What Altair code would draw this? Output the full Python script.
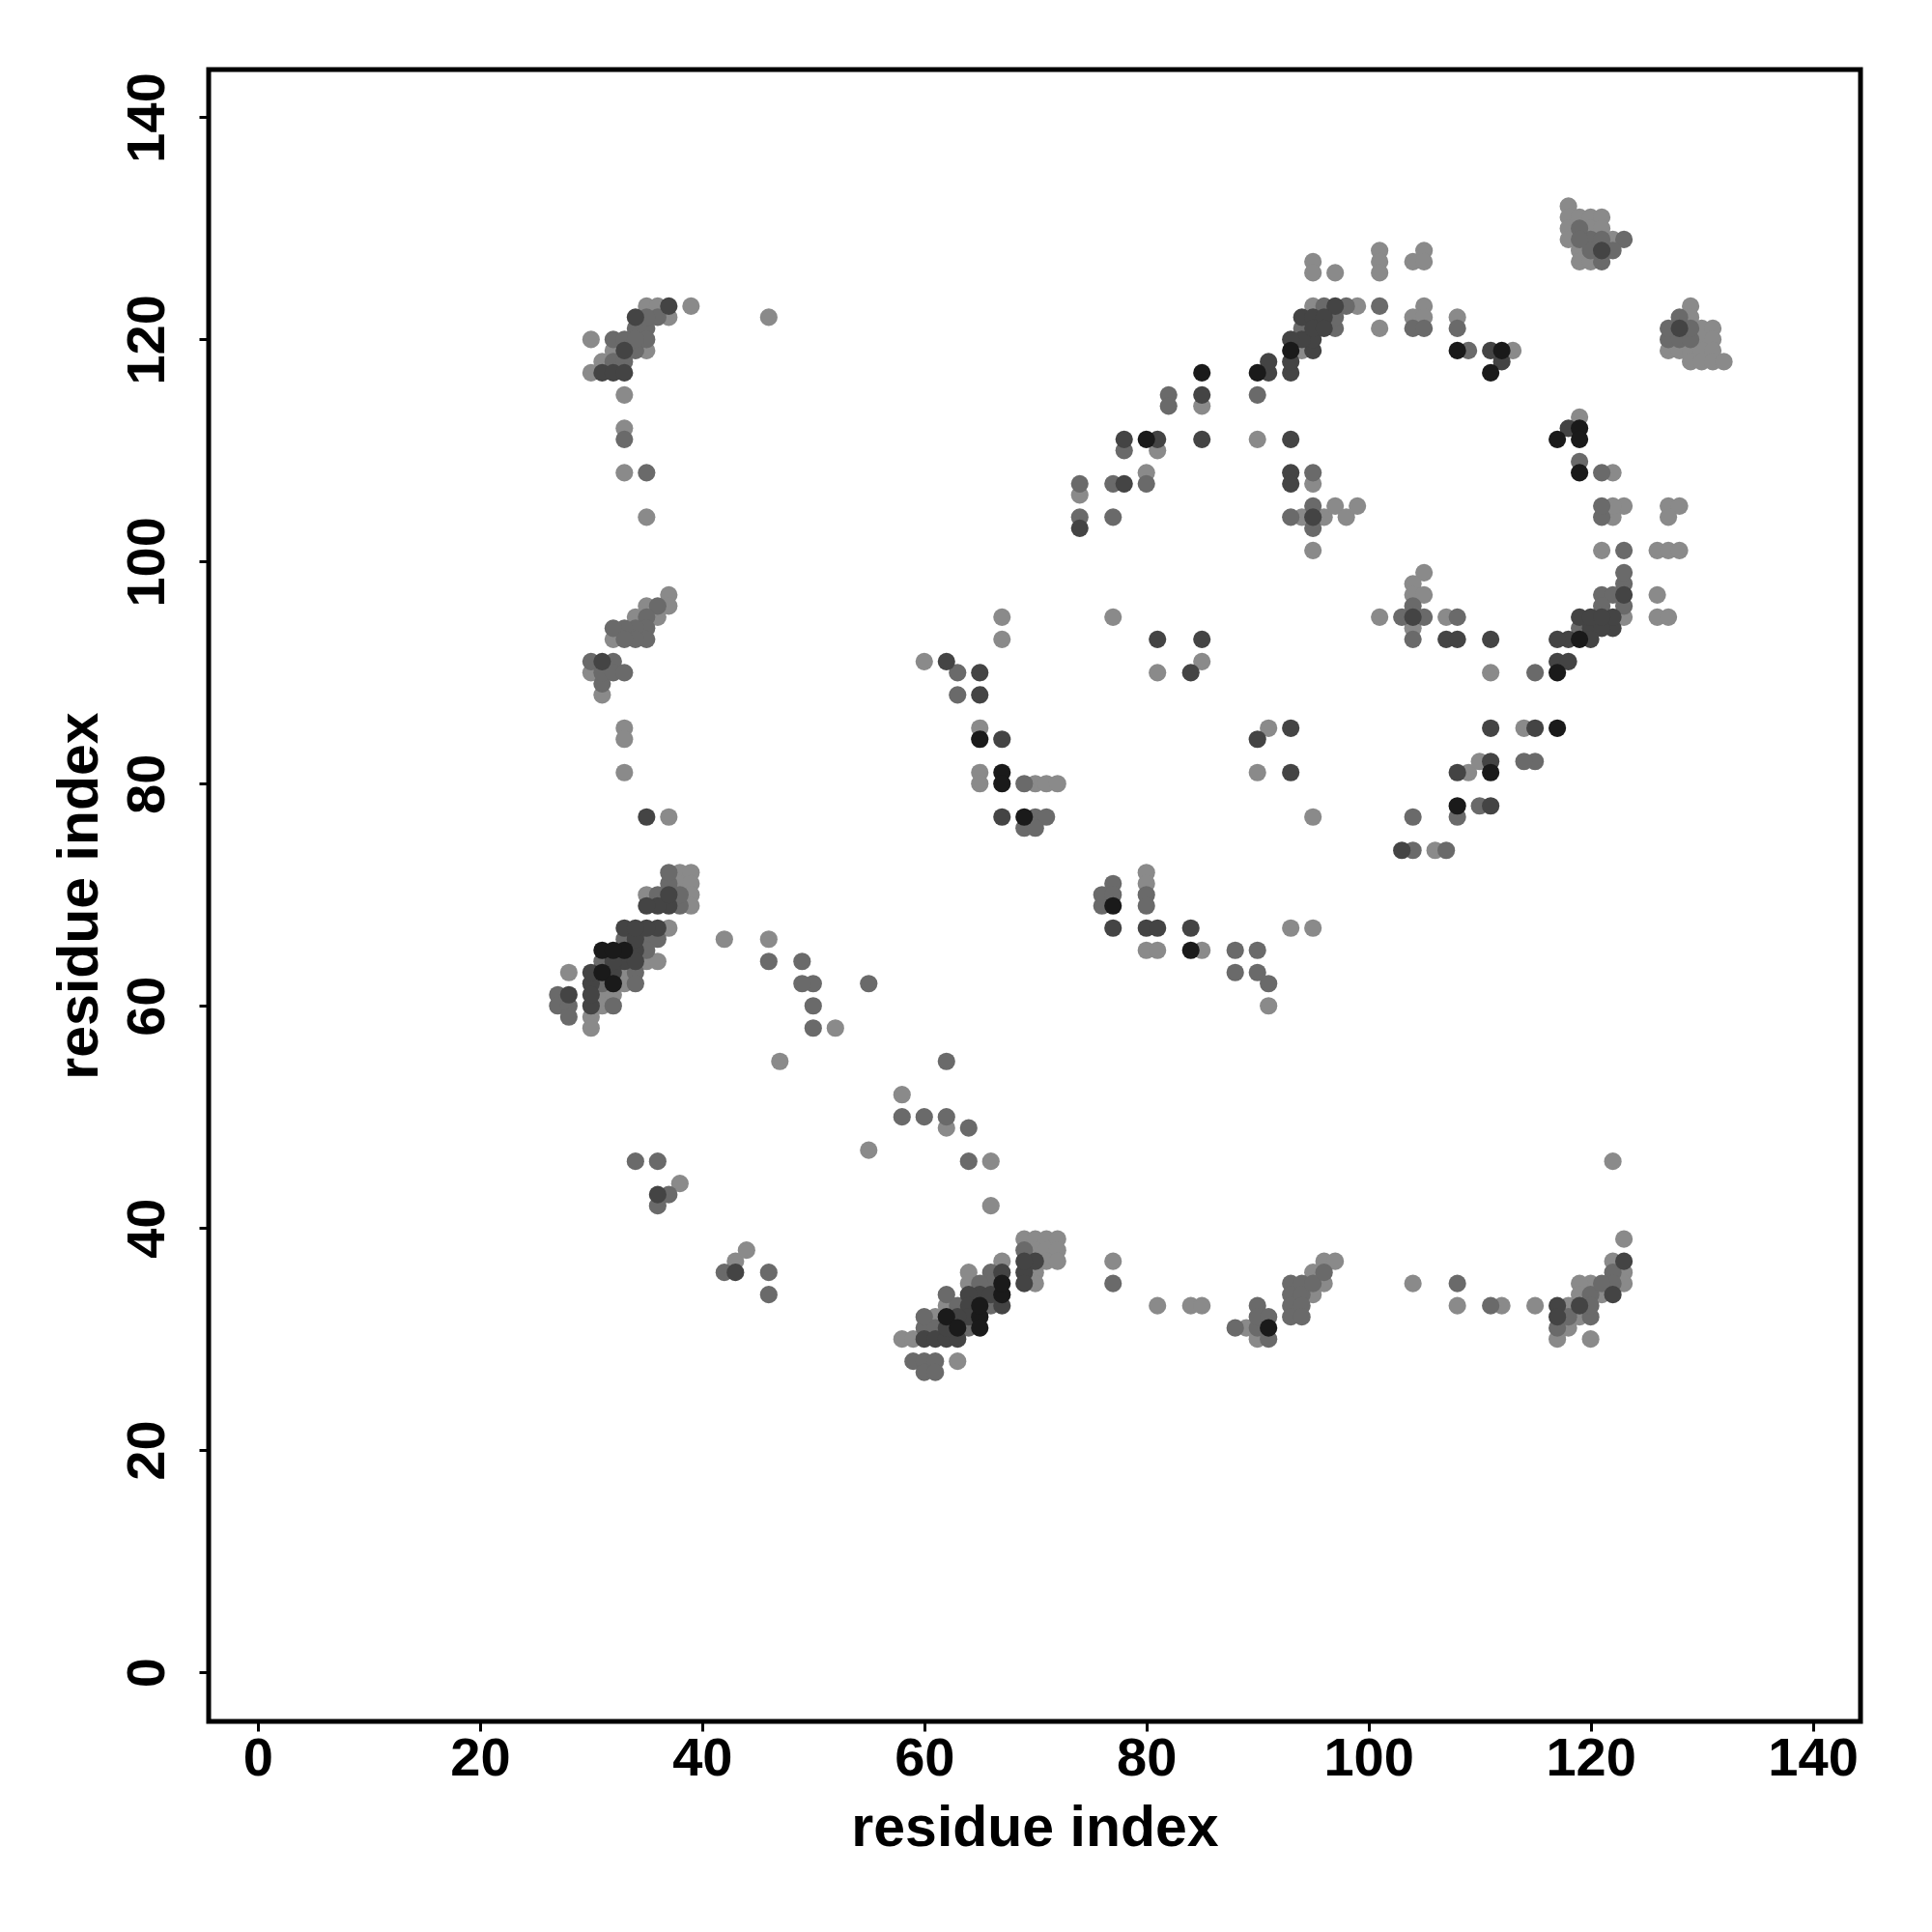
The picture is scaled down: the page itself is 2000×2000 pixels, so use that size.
import altair as alt
import pandas as pd

# contacts: (residue i, residue j, strength level 1=weak .. 4=strong)
upper_left = [(30,120,1),(39,123,1),(46,122,1),(37,123,3),(35,123,1),(36,123,1),(34,122,3),(35,122,2),(36,122,2),(37,122,1),
    (34,121,2),(35,121,2),(32,120,2),(33,120,2),(34,120,2),(35,120,2),(32,119,1),(33,119,3),(34,119,2),(35,119,1),
    (31,118,1),(32,118,2),(33,118,2),(30,117,1),(31,117,3),(32,117,3),(33,117,3),(33,115,1),(33,112,1),(33,111,2),
    (33,108,1),(35,108,2),(35,104,1)]
left_mid = [(37,97,1),(37,96,1),(36,96,2),(35,96,1),(36,95,1),(35,95,2),(34,95,1),(35,94,2),(34,94,2),(33,94,2),(32,94,2),
    (35,93,2),(34,93,2),(33,93,2),(32,93,1),(30,91,2),(31,91,3),(32,91,2),(30,90,1),(31,90,2),(32,90,2),(33,90,2),
    (31,89,2),(31,88,1),(33,85,1),(33,84,1),(33,81,1),(35,77,3),(37,77,1)]
left_dense = [(37,72,2),(38,72,1),(39,72,1),(37,71,2),(38,71,1),(39,71,1),(37,70,3),(38,70,2),(39,70,1),(35,70,1),(36,70,2),
    (35,69,3),(36,69,3),(37,69,3),(38,69,2),(39,69,1),(33,67,3),(34,67,3),(35,67,3),(36,67,3),(37,67,1),(33,66,2),(34,66,3),
    (35,66,2),(36,66,2),(31,65,4),(32,65,4),(33,65,4),(34,65,3),(35,65,2),(31,64,2),(32,64,3),(33,64,3),(34,64,3),(35,64,1),
    (36,64,1),(30,63,3),(31,63,4),(32,63,3),(33,63,1),(34,63,2),(30,62,3),(31,62,2),(32,62,4),(33,62,1),(34,62,2),(30,61,3),
    (31,61,1),(32,61,1),(30,60,3),(31,60,1),(32,60,2),(30,59,1),(30,58,1),(28,63,1),(27,61,2),(28,61,3),(27,60,2),(28,60,2),(28,59,2)]
lower_left = [(42,66,1),(46,66,1),(46,64,2),(49,64,2),(49,62,2),(50,62,2),(55,62,2),(50,60,2),(50,58,2),(52,58,1),(47,55,1),
    (58,52,1),(58,50,2),(60,50,2),(62,50,2),(62,55,2),(62,49,1),(64,49,2),(55,47,1),(64,46,2),(66,46,1),(66,42,1),(34,46,2),
    (36,46,2),(36,43,3),(37,43,2),(38,44,1),(36,42,2),(42,36,2),(43,36,3),(43,37,1),(44,38,1),(46,36,2),(46,34,2)]
centre_left = [(67,95,1),(67,93,1),(77,95,1),(81,93,3),(85,93,3),(81,90,1),(85,91,1),(84,90,3),(60,91,1),(62,91,3),(63,90,2),
    (65,90,3),(63,88,2),(65,88,3),(65,85,1),(65,84,4),(67,84,3),(65,81,1),(65,80,1),(67,81,4),(67,80,4),(69,80,2),(70,80,1),
    (71,80,1),(72,80,1),(67,77,3),(69,77,4),(70,77,2),(71,77,2),(69,76,2),(70,76,2)]
centre = [(91,85,1),(90,84,3),(93,85,3),(90,81,1),(93,81,3),(95,77,1),(80,72,1),(80,71,1),(80,70,2),(80,69,2),(77,71,2),(76,70,2),
    (77,70,2),(76,69,2),(77,69,4),(77,67,3),(80,67,3),(81,67,3),(84,67,3),(93,67,1),(95,67,1),(80,65,1),(81,65,1),(84,65,4),
    (85,65,1),(88,65,2),(90,65,2),(88,63,2),(90,63,2),(91,62,2),(91,60,1)]
upper_mid = [(95,127,1),(95,126,1),(97,126,1),(95,123,1),(96,123,2),(97,123,3),(98,123,2),(99,123,1),(94,122,3),(95,122,3),
    (96,122,3),(97,122,2),(94,121,2),(95,121,3),(96,121,3),(97,121,2),(93,120,3),(94,120,3),(95,120,3),(93,119,4),(94,119,1),
    (95,119,3),(91,118,3),(93,118,3),(90,117,4),(91,117,3),(93,117,3),(85,117,4),(85,115,3),(85,114,1),(82,115,2),(82,114,2),
    (90,115,2),(78,111,3),(78,110,2),(80,111,4),(81,111,3),(81,110,1),(85,111,3),(90,111,1),(93,111,3),(74,107,2),(74,106,1),
    (77,107,2),(78,107,3),(80,108,1),(80,107,2),(93,108,3),(93,107,3),(95,108,2),(95,107,1),(74,104,2),(74,103,3),(77,104,2),
    (93,104,2),(94,104,1),(95,104,3),(95,105,2),(96,104,1),(97,105,1),(98,104,1),(99,105,1),(95,103,2),(95,101,1)]
upper_right = [(101,128,1),(101,127,1),(101,126,1),(104,127,1),(105,128,1),(105,127,1),(101,123,2),(101,121,1),(104,122,1),
    (104,121,2),(105,123,1),(105,122,1),(105,121,2),(108,122,1),(108,121,2),(108,119,4),(109,119,2),(111,119,3),(112,119,4),
    (113,119,1),(112,118,3),(111,117,4),(118,132,1),(118,131,1),(118,130,1),(118,129,1),(119,131,1),(119,130,2),(119,129,2),
    (119,128,1),(119,127,1),(120,131,1),(120,130,1),(120,129,2),(120,128,2),(120,127,1),(121,131,1),(121,130,1),(121,129,2),
    (121,128,3),(121,127,2),(122,129,1),(122,128,2),(123,129,2),(119,113,1),(118,112,3),(119,112,4),(117,111,4),(119,111,4),
    (119,109,2),(119,108,4),(121,108,2),(122,108,1),(129,123,1),(128,122,2),(129,122,1),(127,121,2),(128,121,3),(129,121,2),
    (130,121,1),(131,121,1),(127,120,2),(128,120,2),(129,120,2),(130,120,1),(131,120,1),(127,119,1),(128,119,1),(129,119,1),
    (130,119,1),(131,119,1),(129,118,1),(130,118,1),(131,118,1),(132,118,1),(121,105,2),(122,105,1),(123,105,1),(121,104,2),
    (122,104,1),(127,105,1),(128,105,1),(127,104,1),(121,101,1),(123,101,2),(126,101,1),(127,101,1),(128,101,1),(123,99,2),
    (105,99,1),(104,98,1),(104,97,1),(105,97,1),(104,96,2),(104,95,3),(105,95,2),(103,95,2),(101,95,1),(104,94,1),(104,93,2)]
right_mid = [(107,95,1),(108,95,2),(107,93,3),(108,93,3),(111,93,3),(111,90,1),(115,90,2),(117,90,4),(117,93,3),(118,93,3),
    (119,93,4),(120,93,3),(117,91,3),(118,91,3),(119,95,3),(120,95,3),(121,95,3),(121,97,2),(122,97,2),(121,96,2),(122,95,3),
    (122,94,3),(121,94,3),(119,94,2),(120,94,3),(123,98,2),(123,97,3),(123,96,2),(123,95,1),(126,97,1),(126,95,1),(127,95,1),
    (111,85,3),(114,85,1),(115,85,3),(117,85,4),(110,82,1),(111,82,3),(111,81,4),(114,82,2),(115,82,2),(108,81,3),(109,81,1),
    (108,78,4),(108,77,2),(104,77,2),(110,78,2),(111,78,3),(103,74,3),(104,74,2),(106,74,1),(107,74,2)]
bottom_dense = [(69,39,1),(70,39,1),(71,39,1),(72,39,1),(69,38,2),(70,38,1),(71,38,1),(72,38,1),(69,37,3),(70,37,3),(71,37,1),
    (72,37,1),(67,37,1),(69,36,3),(70,36,1),(67,36,3),(66,36,2),(64,36,1),(69,35,3),(70,35,1),(67,35,4),(66,35,2),(65,35,2),
    (64,35,1),(67,34,4),(66,34,3),(65,34,3),(64,34,3),(62,34,2),(67,33,3),(66,33,2),(65,33,4),(64,33,3),(63,33,2),(62,33,1),
    (60,32,2),(61,32,1),(62,32,4),(63,32,3),(64,32,3),(65,32,4),(60,31,2),(61,31,2),(62,31,3),(63,31,4),(64,31,2),(65,31,4),
    (58,30,1),(59,30,1),(60,30,3),(61,30,3),(62,30,3),(63,30,3),(59,28,2),(60,28,2),(61,28,2),(63,28,1),(60,27,2),(61,27,2)]
bottom_right = [(77,37,1),(77,35,2),(81,33,1),(84,33,1),(85,33,1),(88,31,2),(89,31,1),(90,33,2),(90,32,2),(90,31,2),(90,30,1),
    (91,32,2),(91,31,4),(91,30,2),(93,35,2),(93,34,2),(93,33,2),(93,32,2),(94,35,2),(94,34,2),(94,33,2),(94,32,2),(95,36,1),
    (95,35,2),(95,34,1),(96,37,1),(96,36,2),(96,35,1),(97,37,1),(122,46,1),(123,39,1),(122,37,1),(123,37,3),(123,36,1),
    (123,35,1),(122,36,2),(122,35,2),(122,34,3),(121,35,2),(121,34,1),(120,35,1),(119,35,1),(119,34,1),(120,34,2),(120,33,2),
    (119,33,3),(118,33,1),(117,33,3),(117,32,3),(117,31,2),(117,30,1),(118,32,2),(118,31,1),(119,32,1),(120,32,2),(120,30,1),
    (104,35,1),(108,35,2),(108,33,1),(111,33,2),(112,33,1),(115,33,1)]

tick_values = [0, 20, 40, 60, 80, 100, 120, 140]
grey = {1: "#8a8a8a", 2: "#6a6a6a", 3: "#444444", 4: "#1a1a1a"}

rows = []
for group in [upper_left, left_mid, left_dense, lower_left, centre_left, centre,
              upper_mid, upper_right, right_mid, bottom_dense, bottom_right]:
    for i, j, lev in group:
        rows.append({"i": i, "j": j, "level": lev, "col": grey[lev]})
df = pd.DataFrame(rows).sort_values("level")

FONT = "Liberation Sans"
dom = [-4.43, 144.3]

x_axis = alt.Axis(values=tick_values, title="residue index", grid=False, domain=False,
                  tickColor="black", tickWidth=3, tickSize=10,
                  labelFont=FONT, labelFontWeight="bold", labelFontSize=56, labelColor="black",
                  labelPadding=1, labelFlush=False,
                  titleFont=FONT, titleFontWeight="bold", titleFontSize=59, titleColor="black",
                  titleBaseline="alphabetic", titleX=855, titleY=128)
y_axis = alt.Axis(values=tick_values, title="residue index", grid=False, domain=False,
                  tickColor="black", tickWidth=3, tickSize=10,
                  labelFont=FONT, labelFontWeight="bold", labelFontSize=56, labelColor="black",
                  labelAngle=270, labelAlign="center", labelBaseline="alphabetic",
                  labelPadding=37, labelFlush=False,
                  titleFont=FONT, titleFontWeight="bold", titleFontSize=59, titleColor="black",
                  titleBaseline="alphabetic", titleX=-116, titleY=855)

chart = alt.Chart(df).mark_circle(size=330, opacity=1).encode(
    x=alt.X("i:Q", scale=alt.Scale(domain=dom, nice=False, zero=False), axis=x_axis),
    y=alt.Y("j:Q", scale=alt.Scale(domain=dom, nice=False, zero=False), axis=y_axis),
    color=alt.Color("col:N", scale=None),
    order=alt.Order("level:Q"),
).properties(
    width=1710, height=1710,
    autosize=alt.AutoSizeParams(type="none"),
    padding={"left": 208, "top": 64, "right": 50, "bottom": 200},
).configure_view(stroke="black", strokeWidth=5)

chart.save("out.html", embed_options={"renderer": "svg", "actions": False})
